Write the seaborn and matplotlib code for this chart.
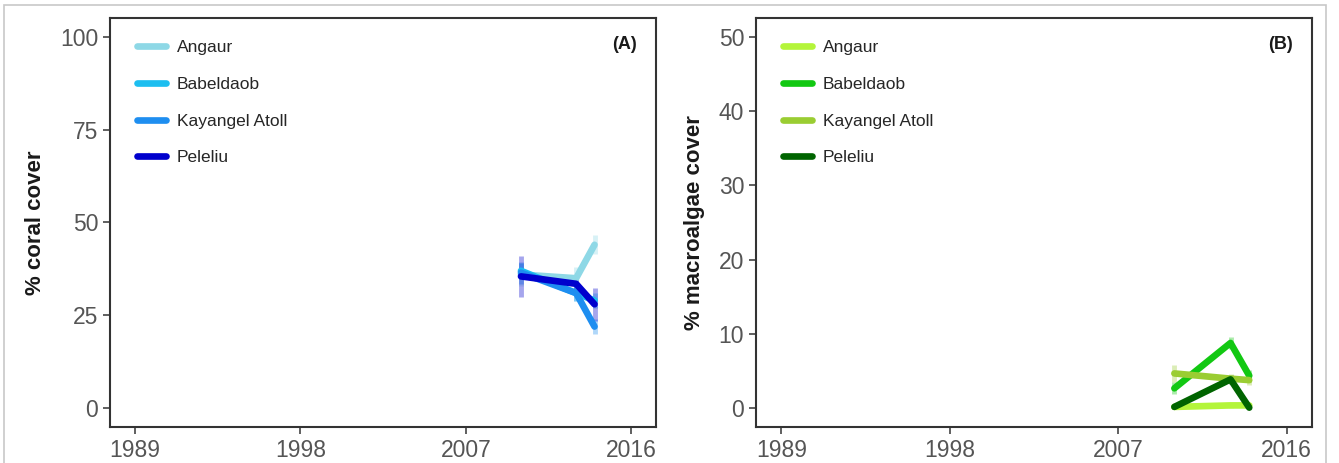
import matplotlib
matplotlib.use("Agg")
import matplotlib.pyplot as plt
from matplotlib.patches import Rectangle
import seaborn as sns
import pandas as pd

# survey years
years = [2010, 2013, 2014]
islands = ["Angaur", "Babeldaob", "Kayangel Atoll", "Peleliu"]

# % coral cover (mean, se)
coral_angaur = [36.0, 35.0, 44.0]
coral_babeldaob = [37.0, 31.0, 29.0]
coral_kayangel = [36.5, 31.0, 22.0]
coral_peleliu = [35.5, 33.5, 28.0]
coral_angaur_se = [3.0, 3.0, 2.5]
coral_babeldaob_se = [2.0, 2.0, 2.0]
coral_kayangel_se = [3.0, 2.0, 2.0]
coral_peleliu_se = [5.5, 2.0, 4.5]

# % macroalgae cover (mean, se)
macro_angaur = [0.2, 0.4, 0.4]
macro_babeldaob = [2.7, 8.8, 4.4]
macro_kayangel = [4.7, 4.0, 3.8]
macro_peleliu = [0.2, 3.9, 0.1]
macro_angaur_se = [0.3, 0.3, 0.3]
macro_babeldaob_se = [0.8, 0.8, 0.8]
macro_kayangel_se = [1.2, 0.6, 0.6]
macro_peleliu_se = [0.3, 0.6, 0.2]

blues = ["#8ED8E6", "#1CBEF0", "#1E8EF0", "#0000CD"]
greens = ["#B4F53A", "#12C812", "#9ACD32", "#006400"]


def build(vals, ses):
    rows = []
    for isl, v, s in zip(islands, vals, ses):
        for yr, m, e in zip(years, v, s):
            rows.append([isl, yr, m, e])
    return pd.DataFrame(rows, columns=["Island", "Year", "Cover", "SE"])


coral = build([coral_angaur, coral_babeldaob, coral_kayangel, coral_peleliu],
              [coral_angaur_se, coral_babeldaob_se, coral_kayangel_se, coral_peleliu_se])
macro = build([macro_angaur, macro_babeldaob, macro_kayangel, macro_peleliu],
              [macro_angaur_se, macro_babeldaob_se, macro_kayangel_se, macro_peleliu_se])

sns.set_theme(style="ticks")
plt.rcParams["font.family"] = ["Liberation Sans", "DejaVu Sans"]

fig = plt.figure(figsize=(13.39, 4.63), dpi=100)
ax1 = fig.add_axes([0.0822, 0.0778, 0.4078, 0.8834])
ax2 = fig.add_axes([0.5646, 0.0778, 0.4152, 0.8834])

fig.patches.append(Rectangle((0.003, -0.05), 0.987, 1.039, transform=fig.transFigure,
                             fill=False, edgecolor="#C8C8C8", linewidth=1.2, zorder=0))


def panel(ax, df, colors, ymax, yticks, ylabel, tag):
    pal = dict(zip(islands, colors))
    for isl in islands:
        d = df[df.Island == isl]
        ax.vlines(d.Year, d.Cover - d.SE, d.Cover + d.SE, color=pal[isl],
                  alpha=0.35, linewidth=3.5, zorder=1)
    sns.lineplot(data=df, x="Year", y="Cover", hue="Island", hue_order=islands,
                 palette=pal, linewidth=4.8, solid_capstyle="round", ax=ax, zorder=2)
    ax.set_xlim(1989 - 27 * 0.05, 2016 + 27 * 0.05)
    ax.set_ylim(-ymax * 0.05, ymax * 1.05)
    ax.set_xticks([1989, 1998, 2007, 2016])
    ax.set_yticks(yticks)
    ax.set_xlabel("")
    ax.set_ylabel(ylabel, fontsize=16, fontweight="bold", color="#1a1a1a", labelpad=10)
    ax.tick_params(labelsize=16.5, labelcolor="#555555", color="#444444", length=5, width=1.2)
    for sp in ax.spines.values():
        sp.set_color("#333333")
        sp.set_linewidth(1.5)
    leg = ax.legend(loc="upper left", bbox_to_anchor=(0.02, 0.985), frameon=False,
                    fontsize=12.5, handlelength=1.7, labelspacing=1.25, handletextpad=0.6)
    for h in leg.get_lines():
        h.set_linewidth(4.8)
    ax.text(0.965, 0.935, tag, transform=ax.transAxes, ha="right", va="center",
            fontsize=13, fontweight="bold", color="#1a1a1a")


panel(ax1, coral, blues, 100, [0, 25, 50, 75, 100], "% coral cover", "(A)")
panel(ax2, macro, greens, 50, [0, 10, 20, 30, 40, 50], "% macroalgae cover", "(B)")

fig.savefig("out.png", dpi=100)
